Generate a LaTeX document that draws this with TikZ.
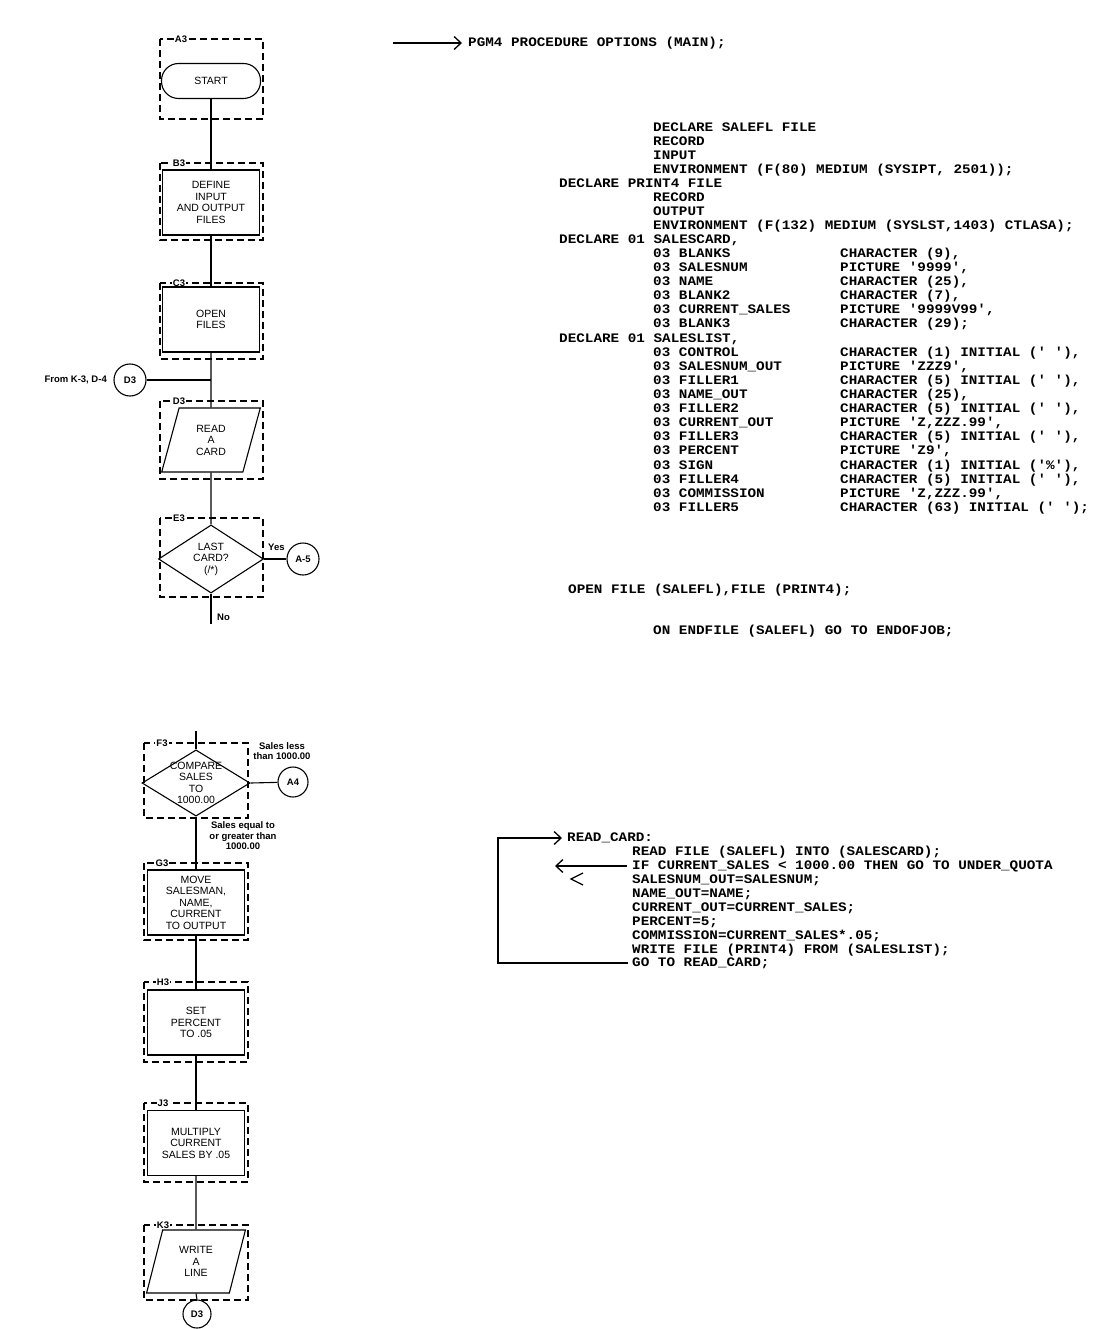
\documentclass[tikz,border=0pt]{standalone}
\usepackage{fontspec}
\setmainfont{Liberation Sans}
\newfontfamily\codefont[FakeStretch=1.10]{Liberation Mono}
\usetikzlibrary{
    arrows.meta,
    shapes.geometric
}

\tikzset{
    flowline/.style={line width=1.1pt},
    codeline/.style={line width=1.3pt},
    dashframe/.style={line width=1.1pt, dash pattern=on 7pt off 4pt},
    tagtext/.style={fill=white, inner sep=1pt, font=\fontsize{9.5}{10}\selectfont\bfseries},
    procbox/.style={draw, line width=1.1pt, minimum width=97pt, minimum height=65pt,
        inner sep=1pt, align=center, font=\fontsize{10.5}{11.5}\selectfont},
    iobox/.style={draw, trapezium, trapezium left angle=75, trapezium right angle=105,
        trapezium stretches=true, line width=1.1pt, minimum width=99pt, minimum height=64pt,
        inner sep=1pt, align=center, font=\fontsize{10.5}{11.5}\selectfont},
    decbox/.style={draw, diamond, line width=1.1pt, minimum width=105pt, minimum height=62pt,
        inner sep=0pt, align=center, font=\fontsize{10.5}{11.5}\selectfont},
    termbox/.style={draw, rectangle, rounded corners=17pt, line width=1.1pt,
        minimum width=99pt, minimum height=35pt, font=\fontsize{10.5}{11.5}\selectfont},
    connbox/.style={draw, circle, line width=1.1pt, minimum size=32pt, inner sep=0pt,
        font=\fontsize{9.5}{10}\selectfont\bfseries},
    notetext/.style={inner sep=0pt, align=center, font=\fontsize{9.5}{10.5}\selectfont\bfseries},
    codetext/.style={anchor=west, inner sep=0pt, text height=7pt, text depth=0pt,
        font=\codefont\bfseries\fontsize{13}{14}\selectfont},
}

\begin{document}
\begin{tikzpicture}[x=1pt, y=-1pt]
    \useasboundingbox[fill=white] (0,0) rectangle (1112,1329);

    % upper flowchart
    \draw [dashframe] (160,39) rectangle (263,119);
    \draw [dashframe] (160,163) rectangle (263,240);
    \draw [dashframe] (160,283) rectangle (263,359);
    \draw [dashframe] (160,401) rectangle (263,479);
    \draw [dashframe] (160,518) rectangle (263,597);
    \node[tagtext] (tA3) at (181,39) {A3};
    \node[tagtext] (tB3) at (179,163) {B3};
    \node[tagtext] (tC3) at (179,283) {C3};
    \node[tagtext] (tD3) at (179,401) {D3};
    \node[tagtext] (tE3) at (179,518) {E3};

    \node[termbox] (start) at (211,81) {START};
    \node[procbox] (define) at (211,202.5) {DEFINE\\INPUT\\AND OUTPUT\\FILES};
    \node[procbox] (openf) at (211,319.5) {OPEN\\FILES};
    \coordinate (join) at (211,380);
    \node[connbox] (entry) at (130,380) {D3};
    \node[notetext, anchor=east] (fromtxt) at (107,380) {From K-3, D-4};
    \node[iobox] (readc) at (211,440) {READ\\A\\CARD};
    \node[decbox] (last) at (211,559) {LAST\\CARD?\\(/*)};
    \node[connbox] (afive) at (303,559) {A-5};
    \node[notetext, anchor=west] (yestxt) at (268,547) {Yes};
    \coordinate (noend) at (211,624);
    \node[notetext, anchor=west] (notxt) at (217,617) {No};

    \draw [flowline] (start.south) -- (define.north);
    \draw [flowline] (define.south) -- (openf.north);
    \draw [flowline] (openf.south) -- (readc.north);
    \draw [flowline] (entry) -- (join);
    \draw [flowline] (readc.south) -- (last.north);
    \draw [flowline] (last.east) -- (afive);
    \draw [flowline] (last.south) -- (noend);

    % lower flowchart
    \draw [dashframe] (144,743) rectangle (248,818);
    \draw [dashframe] (144,863) rectangle (248,940);
    \draw [dashframe] (144,982) rectangle (248,1062);
    \draw [dashframe] (144,1103) rectangle (248,1182);
    \draw [dashframe] (144,1225) rectangle (248,1300);
    \node[tagtext] (tF3) at (162,743) {F3};
    \node[tagtext] (tG3) at (162,863) {G3};
    \node[tagtext] (tH3) at (163,982) {H3};
    \node[tagtext] (tJ3) at (163,1103) {J3};
    \node[tagtext] (tK3) at (163,1225) {K3};

    \coordinate (fin) at (196,731);
    \node[decbox, minimum width=108pt, minimum height=63pt, inner sep=-7pt] (compare) at (196,783) {COMPARE\\SALES\\TO\\1000.00};
    \node[connbox, minimum size=30pt] (afour) at (293,782) {A4};
    \node[notetext] (lesstxt) at (282,751) {Sales less\\than 1000.00};
    \node[notetext] (getxt) at (243,836) {Sales equal to\\or greater than\\1000.00};
    \node[procbox] (move) at (196,902.5) {MOVE\\SALESMAN,\\NAME,\\CURRENT\\TO OUTPUT};
    \node[procbox] (setpct) at (196,1022.5) {SET\\PERCENT\\TO .05};
    \node[procbox] (mult) at (196,1143) {MULTIPLY\\CURRENT\\SALES BY .05};
    \node[iobox, minimum height=63pt] (write) at (196,1261.5) {WRITE\\A\\LINE};
    \node[connbox, minimum size=28pt] (exitc) at (197,1314) {D3};

    \draw [flowline] (fin) -- (compare.north);
    \draw [flowline] (compare.east) -- (afour);
    \draw [flowline] (compare.south) -- (move.north);
    \draw [flowline] (move.south) -- (setpct.north);
    \draw [flowline] (setpct.south) -- (mult.north);
    \draw [flowline] (mult.south) -- (write.north);
    \draw [flowline] (write.south) -- (exitc.north);

    % upper listing
    \coordinate (pgmin) at (393,43);
    \node[codetext] (pgm) at (468,43) {PGM4 PROCEDURE OPTIONS (MAIN);};
    \draw [codeline, -{Straight Barb[length=7pt, width=13pt]}] (pgmin) -- ([xshift=-6pt]pgm.west);

    \node[codetext] (c1) at (653,128) {DECLARE SALEFL FILE};
    \node[codetext] (c2) at (653,142) {RECORD};
    \node[codetext] (c3) at (653,156) {INPUT};
    \node[codetext] (c4) at (653,170) {ENVIRONMENT (F(80) MEDIUM (SYSIPT, 2501));};
    \node[codetext] (c5) at (559,184) {DECLARE PRINT4 FILE};
    \node[codetext] (c6) at (653,198) {RECORD};
    \node[codetext] (c7) at (653,212) {OUTPUT};
    \node[codetext] (c8) at (653,226) {ENVIRONMENT (F(132) MEDIUM (SYSLST,1403) CTLASA);};
    \node[codetext] (c9) at (559,240) {DECLARE 01 SALESCARD,};
    \node[codetext] (c10) at (653,254) {03 BLANKS};
    \node[codetext] (c11) at (653,268) {03 SALESNUM};
    \node[codetext] (c12) at (653,282) {03 NAME};
    \node[codetext] (c13) at (653,296) {03 BLANK2};
    \node[codetext] (c14) at (653,310) {03 CURRENT\_SALES};
    \node[codetext] (c15) at (653,324) {03 BLANK3};
    \node[codetext] (c16) at (559,339) {DECLARE 01 SALESLIST,};
    \node[codetext] (c17) at (653,353) {03 CONTROL};
    \node[codetext] (c18) at (653,367) {03 SALESNUM\_OUT};
    \node[codetext] (c19) at (653,381) {03 FILLER1};
    \node[codetext] (c20) at (653,395) {03 NAME\_OUT};
    \node[codetext] (c21) at (653,409) {03 FILLER2};
    \node[codetext] (c22) at (653,423) {03 CURRENT\_OUT};
    \node[codetext] (c23) at (653,437) {03 FILLER3};
    \node[codetext] (c24) at (653,451) {03 PERCENT};
    \node[codetext] (c25) at (653,466) {03 SIGN};
    \node[codetext] (c26) at (653,480) {03 FILLER4};
    \node[codetext] (c27) at (653,494) {03 COMMISSION};
    \node[codetext] (c28) at (653,508) {03 FILLER5};
    \node[codetext] (k10) at (840,254) {CHARACTER (9),};
    \node[codetext] (k11) at (840,268) {PICTURE '9999',};
    \node[codetext] (k12) at (840,282) {CHARACTER (25),};
    \node[codetext] (k13) at (840,296) {CHARACTER (7),};
    \node[codetext] (k14) at (840,310) {PICTURE '9999V99',};
    \node[codetext] (k15) at (840,324) {CHARACTER (29);};
    \node[codetext] (k17) at (840,353) {CHARACTER (1) INITIAL (' '),};
    \node[codetext] (k18) at (840,367) {PICTURE 'ZZZ9',};
    \node[codetext] (k19) at (840,381) {CHARACTER (5) INITIAL (' '),};
    \node[codetext] (k20) at (840,395) {CHARACTER (25),};
    \node[codetext] (k21) at (840,409) {CHARACTER (5) INITIAL (' '),};
    \node[codetext] (k22) at (840,423) {PICTURE 'Z,ZZZ.99',};
    \node[codetext] (k23) at (840,437) {CHARACTER (5) INITIAL (' '),};
    \node[codetext] (k24) at (840,451) {PICTURE 'Z9',};
    \node[codetext] (k25) at (840,466) {CHARACTER (1) INITIAL ('\%'),};
    \node[codetext] (k26) at (840,480) {CHARACTER (5) INITIAL (' '),};
    \node[codetext] (k27) at (840,494) {PICTURE 'Z,ZZZ.99',};
    \node[codetext] (k28) at (840,508) {CHARACTER (63) INITIAL (' ');};

    \node[codetext] (openln) at (568,590) {OPEN FILE (SALEFL),FILE (PRINT4);};
    \node[codetext] (endln) at (653,631) {ON ENDFILE (SALEFL) GO TO ENDOFJOB;};

    % lower listing
    \node[codetext] (s0) at (567,838) {READ\_CARD:};
    \node[codetext] (s1) at (632,852) {READ FILE (SALEFL) INTO (SALESCARD);};
    \node[codetext] (s2) at (632,866) {IF CURRENT\_SALES < 1000.00 THEN GO TO UNDER\_QUOTA};
    \node[codetext] (s3) at (632,880) {SALESNUM\_OUT=SALESNUM;};
    \node[codetext] (s4) at (632,894) {NAME\_OUT=NAME;};
    \node[codetext] (s5) at (632,908) {CURRENT\_OUT=CURRENT\_SALES;};
    \node[codetext] (s6) at (632,922) {PERCENT=5;};
    \node[codetext] (s7) at (632,936) {COMMISSION=CURRENT\_SALES*.05;};
    \node[codetext] (s8) at (632,950) {WRITE FILE (PRINT4) FROM (SALESLIST);};
    \node[codetext] (s9) at (632,963) {GO TO READ\_CARD;};

    \coordinate (looptop) at (498,838);
    \coordinate (loopbot) at (498,963);
    \coordinate (quota) at (555,866);
    \draw [codeline, -{Straight Barb[length=7pt, width=13pt]}] ([xshift=-4pt]s9.west) -- (loopbot) -- (looptop) -- ([xshift=-5pt]s0.west);
    \draw [codeline, -{Straight Barb[length=7pt, width=13pt]}] ([xshift=-5pt]s2.west) -- (quota);
    \draw [codeline] (583,873) -- (571,879) -- (583,885);
\end{tikzpicture}
\end{document}
